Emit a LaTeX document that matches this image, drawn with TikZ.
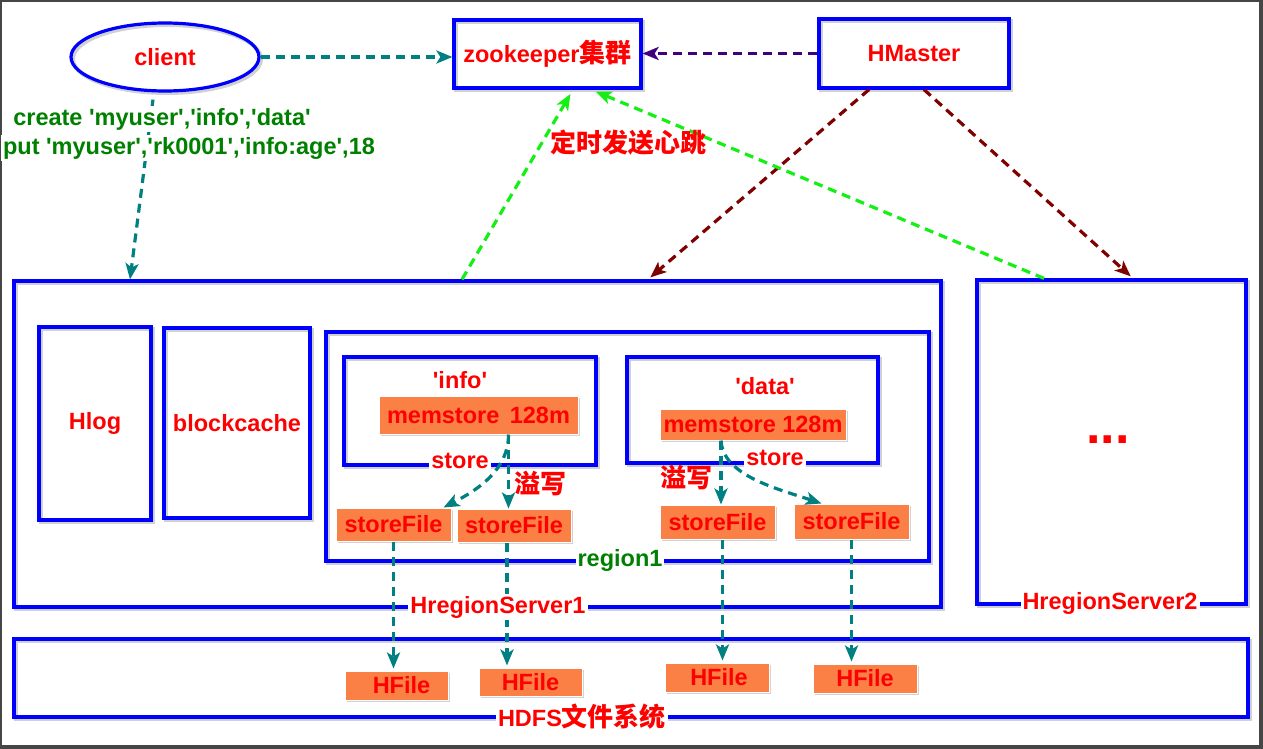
\documentclass[tikz,border=0pt]{standalone}
\usepackage{fontspec}
\usetikzlibrary{arrows.meta,shapes.geometric,shadows}
\newfontfamily\lat{Liberation Sans}
\newfontfamily\cjkb{Noto Sans CJK SC Bold}
\newcommand\zh[1]{{\cjkb\fontsize{26}{28}\selectfont #1}}
\definecolor{tealc}{RGB}{0,128,128}
\definecolor{darkredc}{RGB}{128,0,0}
\definecolor{purpc}{RGB}{64,0,128}
\definecolor{limec}{RGB}{20,240,20}
\definecolor{orangec}{RGB}{250,128,70}
\definecolor{dgreen}{RGB}{0,128,0}
\definecolor{framegray}{RGB}{70,70,70}
\tikzset{
  lbl/.style={text=red, font=\lat\bfseries\fontsize{23.5}{25}\selectfont, inner sep=1pt},
  glbl/.style={lbl, text=dgreen},
  onl/.style={fill=white, inner sep=2pt},
  bluebox/.style={draw=blue, line width=3.2pt,
    preaction={draw=black, opacity=0.18, line width=4pt, transform canvas={shift={(2pt,-2pt)}}}},
  obox/.style={lbl, fill=orangec, draw=white, line width=1pt,
    drop shadow={shadow xshift=2pt, shadow yshift=-2pt, opacity=0.35}},
  arr/.style={line width=3.2pt, dash pattern=on 9pt off 6pt,
    -{Stealth[length=16pt,width=13pt,inset=4pt]}},
  tealarr/.style={arr, draw=tealc},
  purarr/.style={arr, draw=purpc},
  redarr/.style={arr, draw=darkredc},
  grnarr/.style={arr, draw=limec},
}
\begin{document}
\begin{tikzpicture}[x=1pt,y=-1pt]
\useasboundingbox (0,0) rectangle (1263,749);
\fill[framegray] (0,0) rectangle (1263,749);
\fill[white] (2,2) rectangle (1259,745);

% top row
\node[bluebox, ellipse, lbl, minimum width=188, minimum height=68] (client) at (165,57) {client};
\node[bluebox, lbl, minimum width=187, minimum height=68] (zk) at (547.5,54) {zookeeper\zh{集群}};
\node[bluebox, lbl, minimum width=190, minimum height=69] (hm) at (914,53.5) {HMaster};

% servers
\node[bluebox, minimum width=927, minimum height=326] (hrs1) at (477.5,444) {};
\node[bluebox, minimum width=269, minimum height=324] (hrs2) at (1111.5,442) {};
\node[bluebox, lbl, minimum width=112, minimum height=193] (hlog) at (95,423.5) {Hlog};
\node[bluebox, lbl, minimum width=146, minimum height=190] (bc) at (237,423) {blockcache};
\node[bluebox, minimum width=603, minimum height=229] (region) at (627.5,446.5) {};
\node[bluebox, minimum width=252, minimum height=108] (stinfo) at (470,411) {};
\node[bluebox, minimum width=251, minimum height=106] (stdata) at (752.5,410) {};
\node[bluebox, minimum width=1234, minimum height=78] (hdfs) at (631,678) {};

% orange boxes
\node[obox, minimum width=199, minimum height=38] (mem1) at (478.5,415) {memstore\, 128m};
\node[obox, minimum width=186, minimum height=31] (mem2) at (753,424.5) {memstore 128m};
\node[obox, minimum width=115, minimum height=33] (sf1) at (393.5,524.5) {storeFile};
\node[obox, minimum width=114, minimum height=33] (sf2) at (514,525.5) {storeFile};
\node[obox, minimum width=115, minimum height=34] (sf3) at (717.5,522) {storeFile};
\node[obox, minimum width=115, minimum height=35] (sf4) at (851.5,521.5) {storeFile};
\node[obox, minimum width=103, minimum height=29] (hf1) at (396.5,685.5) {\hspace{10pt}HFile};
\node[obox, minimum width=103, minimum height=28] (hf2) at (530.5,682) {HFile};
\node[obox, minimum width=104, minimum height=29] (hf3) at (717,677.5) {\hspace{4pt}HFile};
\node[obox, minimum width=104, minimum height=29] (hf4) at (865,678.5) {HFile};

% connectors
\draw[tealarr] (client.east) -- (client.east -| zk.west);
\draw[tealarr] ([xshift=-12pt,yshift=-7pt]client.south) -- (130,0 |- hrs1.north);
\draw[purarr] (hm.west) -- (hm.west -| zk.east);
\draw[redarr, shorten >=3pt] ([xshift=-45pt]hm.south) -- (648,0 |- hrs1.north);
\draw[redarr, shorten >=3pt] ([xshift=10pt]hm.south) -- (1133,0 |- hrs2.north);
\draw[grnarr, shorten >=5pt] (462,0 |- hrs1.north) -- (573,0 |- zk.south);
\draw[grnarr, shorten >=5pt] (1044,0 |- hrs2.north) -- (591,0 |- zk.south);

\draw[tealarr] ([xshift=30pt]mem1.south) -- ([xshift=30pt]mem1.south |- sf2.north);
\draw[tealarr] ([xshift=30pt]mem1.south) .. controls +(0,35) and +(35,-18) .. ([xshift=-8pt]sf1.north east);
\draw[tealarr] ([xshift=-32pt]mem2.south) -- ([xshift=-32pt]mem2.south |- sf3.north);
\draw[tealarr] ([xshift=-32pt]mem2.south) .. controls +(2,35) and +(-45,-15) .. ([xshift=-30pt]sf4.north);

\draw[tealarr, shorten >=2pt] (sf1.south) -- (sf1.south |- hf1.north);
\draw[tealarr, shorten >=2pt] ([xshift=-7pt]sf2.south) -- ([xshift=-7pt]sf2.south |- hf2.north);
\draw[tealarr, shorten >=2pt] ([xshift=5pt]sf3.south) -- ([xshift=5pt]sf3.south |- hf3.north);
\draw[tealarr, shorten >=2pt] (sf4.south) -- (sf4.south |- hf4.north);

% labels
\node[glbl, onl] (cmd1) at (162,119) {create 'myuser','info','data'};
\node[glbl, onl] (cmd2) at (189,148) {put 'myuser','rk0001','info:age',18};
\node[lbl] (beat) at (628,143) {\zh{定时发送心跳}};
\node[lbl] (tinfo) at (460,380) {'info'};
\node[lbl] (tdata) at (765,386) {'data'};
\node[lbl, onl] (st1) at (460,461) {store};
\node[lbl, onl] (st2) at (775,458) {store};
\node[lbl] (spill1) at (540,483) {\zh{溢写}};
\node[lbl] (spill2) at (686,477) {\zh{溢写}};
\node[glbl, onl] (treg) at (620,560) {region1};
\node[lbl, onl] (ths1) at (498,607) {HregionServer1};
\node[lbl, onl] (ths2) at (1110,603) {HregionServer2};
\node[lbl, font=\lat\bfseries\fontsize{52}{54}\selectfont] (dots) at (1108,440) {...};
\node[lbl, onl] (thdfs) at (582,717) {HDFS\zh{文件系统}};
\end{tikzpicture}
\end{document}
